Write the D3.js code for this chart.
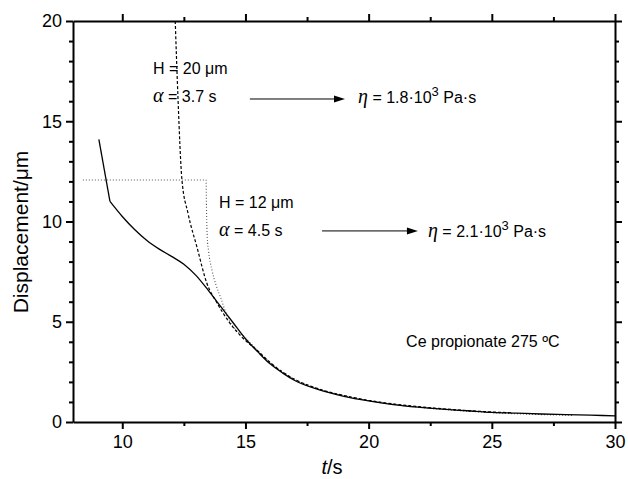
<!DOCTYPE html>
<html>
<head>
<meta charset="utf-8">
<script src="https://cdn.jsdelivr.net/npm/d3@7"></script>
<style>
  body { margin: 0; background: #fff; }
  svg { display: block; font-family: "Liberation Sans", Arial, sans-serif; }
</style>
</head>
<body>
<div id="chart"></div>
<script>
// measured curve (solid)
const measT = [9.05, 9.5, 10.0, 10.5, 11.0, 11.5, 12.0, 12.5, 13.0, 13.5, 14.0, 14.5, 15.0, 15.5, 16.0, 16.5, 17.0, 18.0, 19.0, 20.0, 21, 22, 23, 24, 25, 26, 27, 28, 29, 30];
const measD = [14.1, 11.0, 10.25, 9.6, 9.05, 8.62, 8.26, 7.87, 7.3, 6.55, 5.75, 4.95, 4.15, 3.5, 2.9, 2.45, 2.07, 1.6, 1.28, 1.05, 0.87, 0.74, 0.64, 0.56, 0.48, 0.44, 0.40, 0.37, 0.34, 0.31];

// fit H = 20 um, alpha = 3.7 s (dashed)
const fit20T = [12.15, 12.26, 12.42, 12.67, 13.03, 13.43, 13.84, 14.3, 14.8, 15.5, 16.0, 17.0, 18.0, 19.0, 20.0, 21, 22, 23, 24, 25, 25.8];
const fit20D = [20, 16.2, 12.1, 10.4, 8.73, 6.93, 5.95, 5.05, 4.3, 3.55, 2.97, 2.13, 1.64, 1.32, 1.08, 0.9, 0.77, 0.66, 0.57, 0.5, 0.46];

// fit H = 12 um, alpha = 4.5 s (dotted)
const fit12T = [8.4, 13.4, 13.42, 13.45, 13.5, 13.64, 13.8, 13.98, 14.3, 14.6, 15.0, 15.5, 16.0, 17.0, 18.0, 19.0, 20.0, 21, 22, 23, 24, 25, 26, 27, 28.3];
const fit12D = [12.07, 12.07, 10.5, 9.2, 8.55, 7.58, 6.85, 6.25, 5.15, 4.62, 4.2, 3.54, 2.97, 2.12, 1.63, 1.31, 1.06, 0.88, 0.74, 0.63, 0.54, 0.47, 0.41, 0.37, 0.33];

const xTicks = [10, 15, 20, 25, 30];
const yTicks = [0, 5, 10, 15, 20];

const width = 628, height = 479;
const margin = { top: 21, right: 13, bottom: 57, left: 73 };

const svg = d3.select("#chart").append("svg")
  .attr("width", width).attr("height", height);

const x = d3.scaleLinear().domain([8, 30]).range([margin.left, width - margin.right]);
const y = d3.scaleLinear().domain([0, 20]).range([height - margin.bottom, margin.top]);

const zip = (ts, ds) => ts.map((t, i) => ({ t: t, d: ds[i] }));

const line = d3.line()
  .x(d => x(d.t))
  .y(d => y(d.d))
  .curve(d3.curveMonotoneX);
const straight = d3.line()
  .x(d => x(d.t))
  .y(d => y(d.d));

// curves
svg.append("path")
  .datum(zip(fit12T, fit12D))
  .attr("d", line)
  .attr("fill", "none")
  .attr("stroke", "#555")
  .attr("stroke-width", 1.1)
  .attr("stroke-dasharray", "1,2");

svg.append("path")
  .datum(zip(fit20T, fit20D))
  .attr("d", line)
  .attr("fill", "none")
  .attr("stroke", "#000")
  .attr("stroke-width", 1.2)
  .attr("stroke-dasharray", "3,2");

// measured: first segment is straight (kink at 9.5 s), rest smoothed
const meas = zip(measT, measD);
svg.append("path")
  .datum(meas.slice(0, 2))
  .attr("d", straight)
  .attr("fill", "none")
  .attr("stroke", "#000")
  .attr("stroke-width", 1.3);
svg.append("path")
  .datum(meas.slice(1))
  .attr("d", line)
  .attr("fill", "none")
  .attr("stroke", "#000")
  .attr("stroke-width", 1.3);

// axes: bottom/left with labels, top/right without
const minorX = d3.range(7.5, 30.01, 2.5).filter(v => v >= 8 && !xTicks.includes(v));
const minorY = d3.range(0, 20.01, 1).filter(v => !yTicks.includes(v));

function styleAxis(g) {
  g.select(".domain").attr("stroke-width", 2).attr("stroke", "#000");
  g.selectAll(".tick line").attr("stroke-width", 2).attr("stroke", "#000");
  g.selectAll(".tick text").attr("fill", "#000").style("font-size", "18px");
}

const gx = svg.append("g").attr("transform", "translate(0," + y(0) + ")");
gx.call(d3.axisBottom(x).tickValues(xTicks).tickSize(7).tickSizeOuter(0).tickPadding(6)).call(styleAxis);
gx.append("g").call(d3.axisBottom(x).tickValues(minorX).tickSize(4).tickFormat(""))
  .call(g => g.select(".domain").remove()).call(styleAxis);

const gxt = svg.append("g").attr("transform", "translate(0," + y(20) + ")");
gxt.call(d3.axisTop(x).tickValues(xTicks).tickSize(7).tickSizeOuter(0).tickFormat("")).call(styleAxis);
gxt.append("g").call(d3.axisTop(x).tickValues(minorX).tickSize(4).tickFormat(""))
  .call(g => g.select(".domain").remove()).call(styleAxis);

const gy = svg.append("g").attr("transform", "translate(" + x(8) + ",0)");
gy.call(d3.axisLeft(y).tickValues(yTicks).tickSize(7).tickSizeOuter(0).tickPadding(4)).call(styleAxis);
gy.append("g").call(d3.axisLeft(y).tickValues(minorY).tickSize(4).tickFormat(""))
  .call(g => g.select(".domain").remove()).call(styleAxis);

const gyr = svg.append("g").attr("transform", "translate(" + x(30) + ",0)");
gyr.call(d3.axisRight(y).tickValues(yTicks).tickSize(7).tickSizeOuter(0).tickFormat("")).call(styleAxis);
gyr.append("g").call(d3.axisRight(y).tickValues(minorY).tickSize(4).tickFormat(""))
  .call(g => g.select(".domain").remove()).call(styleAxis);

// axis titles
svg.append("text")
  .attr("transform", "translate(28,232) rotate(-90)")
  .attr("text-anchor", "middle")
  .style("font-size", "21px")
  .text("Displacement/μm");

const xt = svg.append("text")
  .attr("x", 332)
  .attr("y", 474)
  .attr("text-anchor", "middle")
  .style("font-size", "20px");
xt.append("tspan").style("font-style", "italic").text("t");
xt.append("tspan").text("/s");

// annotations
const serif = "'Liberation Serif', 'DejaVu Serif', serif";

function label(t, d, parts) {
  const txt = svg.append("text").attr("x", x(t)).attr("y", y(d)).style("font-size", "16px");
  parts.forEach(p => {
    const s = txt.append("tspan").text(p.s);
    if (p.greek) s.style("font-family", serif).style("font-style", "italic").style("font-size", "20px");
    if (p.sup) s.attr("dy", -7).style("font-size", "13px");
    if (p.down) s.attr("dy", 7);
  });
}

function arrow(t1, t2, d) {
  svg.append("line")
    .attr("x1", x(t1)).attr("x2", x(t2) - 8)
    .attr("y1", y(d)).attr("y2", y(d))
    .attr("stroke", "#000").attr("stroke-width", 1);
  svg.append("path")
    .attr("d", "M" + x(t2) + "," + y(d) + " l-11,-3.5 l0,7 z")
    .attr("fill", "#000");
}

label(11.25, 17.36, [{ s: "H = 20 μm" }]);
label(11.25, 15.96, [{ s: "α", greek: true }, { s: " = 3.7 s" }]);
arrow(15.18, 19.04, 16.11);
label(19.57, 15.91, [{ s: "η", greek: true }, { s: " = 1.8·10" }, { s: "3", sup: true }, { s: " Pa·s", down: true }]);

label(13.93, 10.67, [{ s: "H = 12 μm" }]);
label(13.93, 9.28, [{ s: "α", greek: true }, { s: "  = 4.5 s" }]);
arrow(18.11, 22.0, 9.53);
label(22.41, 9.23, [{ s: "η", greek: true }, { s: " = 2.1·10" }, { s: "3", sup: true }, { s: " Pa·s", down: true }]);

label(21.52, 3.74, [{ s: "Ce propionate 275 ºC" }]);
</script>
</body>
</html>
